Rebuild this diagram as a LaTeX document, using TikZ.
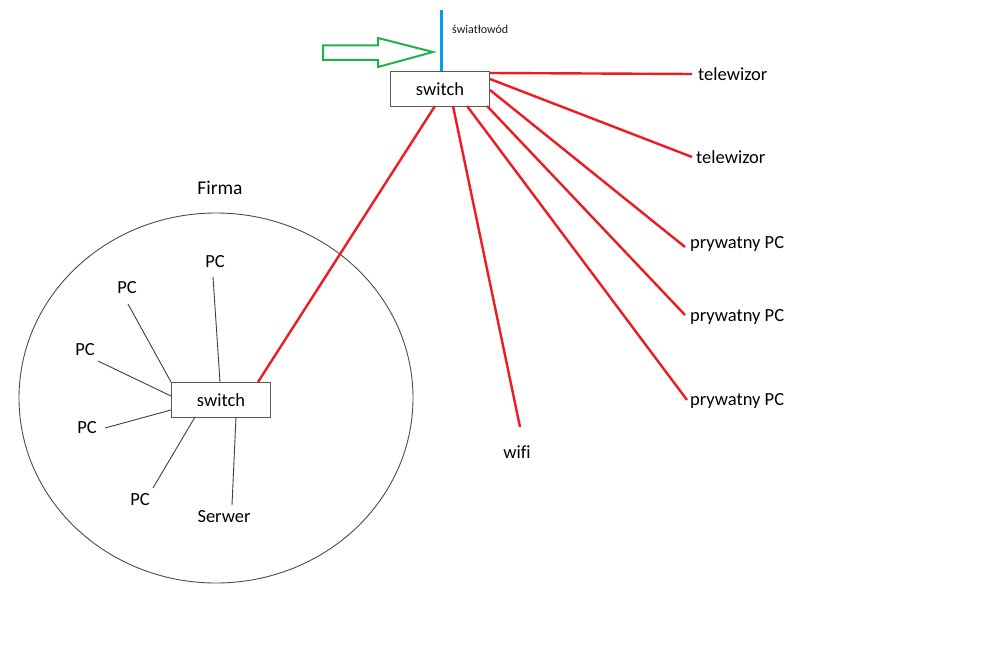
\documentclass[tikz,border=0pt]{standalone}
\usepackage{fontspec}
\setmainfont{Carlito}[Ligatures=NoCommon]
\begin{document}
\begin{tikzpicture}[x=1pt,y=-1pt,
  lbl/.style={inner sep=1pt,font=\fontsize{18.5}{22}\selectfont},
  swbox/.style={draw=black!65,line width=1pt,fill=white,minimum width=99pt,minimum height=35pt,inner sep=0pt,font=\fontsize{18.5}{22}\selectfont},
  redline/.style={draw={rgb,255:red,237;green,28;blue,36},line width=2.4pt},
  blkline/.style={draw=black!75,line width=0.9pt}]
\definecolor{pblue}{RGB}{0,162,232}
\definecolor{pgreen}{RGB}{34,177,76}
\useasboundingbox[fill=white] (0,0) rectangle (1000,663);
% company ellipse
\draw[black!70,line width=0.9pt] (216,398) ellipse [x radius=197, y radius=185];
\node[lbl,font=\fontsize{19.5}{23}\selectfont] (firma) at (220,188) {Firma};
% top switch
\node[swbox,anchor=north west] (sw) at (390,71) {switch};
\node[swbox,anchor=north west] (sw2) at (171,382) {switch};
% fibre
\coordinate (fib) at (441,10);
\draw[pblue,line width=3pt] (fib) -- (sw.north -| fib);
\node[inner sep=0pt,anchor=west,font=\fontsize{12}{14}\selectfont,text=black!90] (fibl) at (452,29) {światłowód};
% green arrow
\draw[pgreen,line width=2pt,line join=miter]
  (323,45.5) -- (378,45.5) -- (378,38) -- (433,52) -- (378,67) -- (378,60) -- (323,60) -- cycle;
% right labels
\node[lbl,anchor=west] (tv1) at (697,74) {telewizor};
\node[lbl,anchor=west] (tv2) at (695,157) {telewizor};
\node[lbl,anchor=west] (p1) at (689,244) {prywatny PC};
\node[lbl,anchor=west] (p2) at (689,317) {prywatny PC};
\node[lbl,anchor=west] (p3) at (689,401) {prywatny PC};
\node[lbl] (wifi) at (517,452) {wifi};
% red connectors
\coordinate (e1) at (692,74);
\coordinate (e2) at (692,157);
\coordinate (e3) at (685,247);
\coordinate (e4) at (685,315);
\coordinate (e5) at (687,400);
\coordinate (e6) at (520,427);
\draw[redline] (490,73) -- (e1);
\draw[redline] (490,79) -- (e2);
\draw[redline] (490,90) -- (e3);
\draw[redline] (487,106) -- (e4);
\draw[redline] (467,106) -- (e5);
\draw[redline] (453,106) -- (e6);
\draw[redline] (435,106) -- (258,382);
% inner labels
\node[lbl] (pc1) at (215,262) {PC};
\node[lbl] (pc2) at (127,288) {PC};
\node[lbl] (pc3) at (85,350) {PC};
\node[lbl] (pc4) at (87,428) {PC};
\node[lbl] (pc5) at (140,500) {PC};
\node[lbl] (srv) at (224,517) {Serwer};
% black connectors
\coordinate (b1) at (213,277);
\coordinate (b2) at (128,304);
\coordinate (b3) at (98,361);
\coordinate (b4) at (105,428);
\coordinate (b5) at (153,488);
\coordinate (b6) at (232,505);
\draw[blkline] (b1) -- (220,382);
\draw[blkline] (b2) -- (171,382);
\draw[blkline] (b3) -- (171,396);
\draw[blkline] (b4) -- (171,410);
\draw[blkline] (b5) -- (195,417);
\draw[blkline] (b6) -- (236,417);
\end{tikzpicture}
\end{document}
